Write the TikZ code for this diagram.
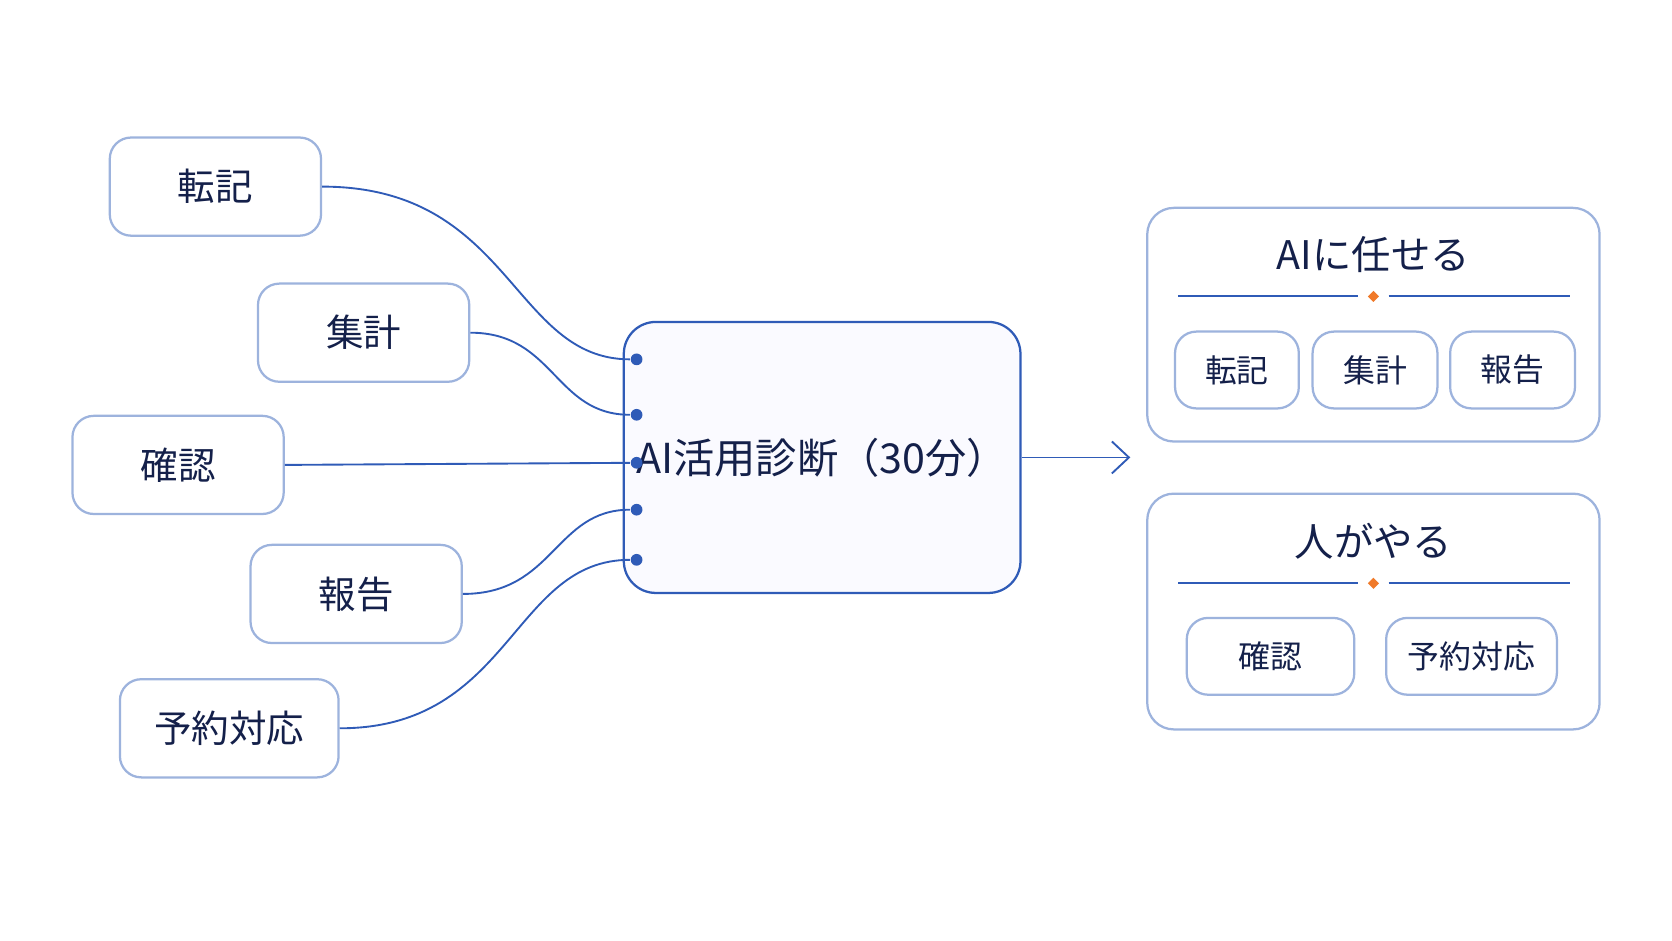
\documentclass[tikz,border=0pt]{standalone}
\usepackage{fontspec}
\setmainfont{Noto Sans CJK JP}
\usepackage{tikz}
\usetikzlibrary{positioning, shapes.geometric}
\usetikzlibrary{arrows.meta}
\definecolor{lineblue}{HTML}{2F5BB7}
\definecolor{boxblue}{HTML}{9DB3DD}
\definecolor{textnavy}{HTML}{14204A}
\definecolor{accent}{HTML}{F07A2A}
\tikzset{>={Straight Barb[width=3mm,length=1.6mm]}}

\begin{document}
\begin{tikzpicture}[x=0.01cm, y=-0.01cm, text=textnavy, task/.style={rounded corners=2mm, draw=boxblue, fill=white, line width=0.6pt, minimum width=1.98cm, minimum height=0.92cm, font=\fontsize{10}{12}\selectfont}, small/.style={rounded corners=2mm, draw=boxblue, fill=white, line width=0.6pt, minimum height=0.72cm, font=\fontsize{8.5}{10}\selectfont}, group/.style={rounded corners=2.5mm, draw=boxblue, fill=white, line width=0.6pt, minimum width=4.24cm}, title/.style={font=\fontsize{10.5}{12}\selectfont}, link/.style={lineblue, line width=0.5pt}, port/.style={circle, fill=lineblue, inner sep=0pt, minimum size=1.1mm}]
    \useasboundingbox (0,0) rectangle (1568,882);

    %Nodes
    \node[task](tenki) at (202,175){転記};
    \node[task](shukei) at (341,312){集計};
    \node[task](kakunin) at (167,436){確認};
    \node[task](hokoku) at (334,557){報告};
    \node[task, minimum width=2.05cm](yoyaku) at (215,683){予約対応};
    \node[rounded corners=3mm, draw=lineblue, fill=blue!2, line width=0.6pt, minimum width=3.47cm, minimum height=2.54cm, font=\fontsize{11}{13}\selectfont](diag) at (771,429){AI活用診断（30分）};
    \node[port](p1) at (597,337){};
    \node[port](p2) at (597,389){};
    \node[port](p3) at (597,434){};
    \node[port](p4) at (597,478){};
    \node[port](p5) at (597,525){};
    \coordinate (out) at (1060,429);

    \node[group, minimum height=2.19cm](ai) at (1288,304.5){};
    \node[title](ai_title) at (1288,239){AIに任せる};
    \node[small, minimum width=1.16cm](ai1) at (1160,347){転記};
    \node[small, minimum width=1.17cm](ai2) at (1289.5,347){集計};
    \node[small, minimum width=1.17cm](ai3) at (1418.5,347){報告};
    \node[group, minimum height=2.21cm](human) at (1288,573.5){};
    \node[title](human_title) at (1288,508){人がやる};
    \node[small, minimum width=1.57cm](hu1) at (1191.5,615.5){確認};
    \node[small, minimum width=1.6cm](hu2) at (1380,615.5){予約対応};
    \node[diamond, fill=accent, inner sep=0pt, minimum size=1.1mm](d1) at (1288,278){};
    \node[diamond, fill=accent, inner sep=0pt, minimum size=1.1mm](d2) at (1288,547){};

    %Lines
    \draw[link] (tenki.east) .. controls (480,175) and (480,337) .. (p1);
    \draw[link] (shukei.east) .. controls (520,312) and (520,389) .. (p2);
    \draw[link] (kakunin.east) -- (p3);
    \draw[link] (hokoku.east) .. controls (520,557) and (520,478) .. (p4);
    \draw[link] (yoyaku.east) .. controls (480,683) and (480,525) .. (p5);
    \draw[link, ->] (diag.east) -- (out);
    \draw[link] (1105,278) -- ([xshift=-0.08cm]d1.west);
    \draw[link] ([xshift=0.08cm]d1.east) -- (1472,278);
    \draw[link] (1105,547) -- ([xshift=-0.08cm]d2.west);
    \draw[link] ([xshift=0.08cm]d2.east) -- (1472,547);

\end{tikzpicture}
\end{document}
